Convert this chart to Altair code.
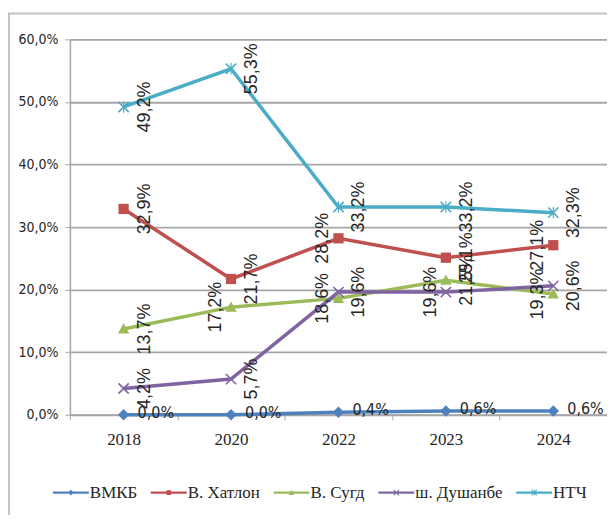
import altair as alt
import pandas as pd

years = ["2018", "2020", "2022", "2023", "2024"]
series = ["ВМКБ", "В. Хатлон", "В. Сугд", "ш. Душанбе", "НТЧ"]
vmkb = [0.0, 0.0, 0.4, 0.6, 0.6]
khatlon = [32.9, 21.7, 28.2, 25.1, 27.1]
sugd = [13.7, 17.2, 18.6, 21.5, 19.3]
dushanbe = [4.2, 5.7, 19.6, 19.6, 20.6]
ntch = [49.2, 55.3, 33.2, 33.2, 32.3]
# which side of the point each data label sits on (R / L)
side_vmkb = ["R", "R", "R", "R", "R"]
side_khatlon = ["R", "R", "L", "R", "L"]
side_sugd = ["R", "L", "L", "R", "L"]
side_dushanbe = ["R", "R", "R", "L", "R"]
side_ntch = ["R", "R", "R", "R", "R"]

colors = ["#4F81BD", "#C0504D", "#9BBB59", "#8064A2", "#4BACC6"]

values = [vmkb, khatlon, sugd, dushanbe, ntch]
sides = [side_vmkb, side_khatlon, side_sugd, side_dushanbe, side_ntch]
rows = []
for si, (name, vals, sd) in enumerate(zip(series, values, sides)):
    for y, v, s in zip(years, vals, sd):
        rows.append({"year": y, "series": name, "value": v, "side": s, "order": si})
df = pd.DataFrame(rows)

# marker shapes (unit square)
m_diamond = "M0,-1L1,0L0,1L-1,0Z"
m_square = "M-0.9,-0.9H0.9V0.9H-0.9Z"
m_triangle = "M0,-1L1,0.8H-1Z"
m_x = "M-1,-0.8L-0.8,-1L1,0.8L0.8,1Z M-0.8,1L-1,0.8L0.8,-1L1,-0.8Z"
m_star = m_x + " M-0.1,-1H0.1V1H-0.1Z"
marker_paths = [m_diamond, m_square, m_triangle, m_x, m_star]

# legend symbols: line segment plus marker
ln = "M-1,-0.06H1V0.06H-1Z "
l_diamond = ln + "M0,-0.16L0.16,0L0,0.16L-0.16,0Z"
l_square = ln + "M-0.13,-0.13H0.13V0.13H-0.13Z"
l_triangle = ln + "M0,-0.16L0.16,0.13H-0.16Z"
l_x = ln + "M-0.17,-0.13L-0.13,-0.17L0.17,0.13L0.13,0.17Z M-0.13,0.17L-0.17,0.13L0.13,-0.17L0.17,-0.13Z"
l_star = l_x + " M-0.02,-0.2H0.02V0.2H-0.02Z"
legend_paths = [l_diamond, l_square, l_triangle, l_x, l_star]

W, H = 538, 376
label_expr = "replace(format(datum.value, '.1f'), '.', ',') + '%'"
narrow = "Liberation Sans Narrow, Arial Narrow, DejaVu Sans Condensed, sans-serif"

x_enc = alt.X(
    "year:N",
    sort=years,
    scale=alt.Scale(type="band", paddingInner=0, paddingOuter=0),
    axis=alt.Axis(
        title=None, labelAngle=0, tickBand="extent", tickSize=5, tickColor="#a6a6a6",
        domainColor="#a6a6a6", domainWidth=1.5, labelFont="Liberation Serif",
        labelFontSize=17, labelColor="#262626", labelPadding=12, grid=False,
    ),
)
y_enc = alt.Y(
    "value:Q",
    scale=alt.Scale(domain=[0, 60], nice=False, zero=True),
    axis=alt.Axis(
        title=None, values=[0, 10, 20, 30, 40, 50, 60], labelExpr=label_expr,
        labelFont=narrow, labelFontSize=14, labelColor="#262626", labelPadding=7,
        tickSize=5, tickColor="#a6a6a6", domainColor="#a6a6a6", domainWidth=1.5,
        grid=True, gridColor="#a6a6a6", gridWidth=1.8,
    ),
)


def col(legend=None):
    return alt.Color("series:N", sort=series, scale=alt.Scale(domain=series, range=colors), legend=legend)


base = alt.Chart(df)

frame = alt.Chart(pd.DataFrame({"a": [0]})).mark_rect(
    fill="transparent", stroke="#c4c4c4", strokeWidth=2
).encode(
    x=alt.value(-61), x2=alt.value(W + 40), y=alt.value(-26), y2=alt.value(H + 150)
)

lines = base.mark_line(strokeWidth=3.5).encode(
    x=x_enc, y=y_enc, color=col(), detail="series:N", order="order:Q"
)

markers = base.mark_point(filled=True, size=130, opacity=1).encode(
    x="year:N", y="value:Q", color=col(),
    shape=alt.Shape("series:N", sort=series,
                    scale=alt.Scale(domain=series, range=marker_paths), legend=None),
)

leg = alt.Legend(
    title=None, orient="none", legendX=-17, legendY=436,
    direction="horizontal", columns=5, symbolSize=1296,
    symbolStrokeWidth=0, labelFont="Liberation Serif", labelFontSize=17,
    labelColor="#262626", labelOffset=1, columnPadding=13,
    gridAlign="each", symbolOpacity=1,
)

legend_layer = base.transform_filter("datum.value < -1000").mark_point(filled=True, opacity=1).encode(
    x="year:N", y="value:Q",
    color=col(leg),
    shape=alt.Shape("series:N", sort=series,
                    scale=alt.Scale(domain=series, range=legend_paths), legend=leg),
)

lab_font = "Liberation Sans, Arial, sans-serif"
text_base = base.transform_calculate(label=label_expr)

flat_labels = text_base.transform_filter(alt.datum.series == series[0]).mark_text(
    align="left", baseline="middle", dx=14, dy=-2,
    font=narrow, fontSize=16, color="#262626",
).encode(x="year:N", y="value:Q", text="label:N")

rot_right = text_base.transform_filter(
    (alt.datum.series != series[0]) & (alt.datum.side == "R")
).mark_text(
    angle=270, align="center", baseline="middle", dy=21,
    font=lab_font, fontSize=18, color="#262626",
).encode(x="year:N", y="value:Q", text="label:N")

rot_left = text_base.transform_filter(
    (alt.datum.series != series[0]) & (alt.datum.side == "L")
).mark_text(
    angle=270, align="center", baseline="middle", dy=-15,
    font=lab_font, fontSize=18, color="#262626",
).encode(x="year:N", y="value:Q", text="label:N")

chart = alt.layer(
    frame, lines, markers, legend_layer, flat_labels, rot_right, rot_left
).resolve_scale(shape="independent", color="independent").properties(
    width=W, height=H,
    autosize=alt.AutoSizeParams(type="none"),
    padding={"left": 62, "top": 31, "right": 0, "bottom": 100},
    background="white",
).configure_view(stroke=None)

chart.save("out.html", embed_options={"renderer": "svg", "actions": False})
